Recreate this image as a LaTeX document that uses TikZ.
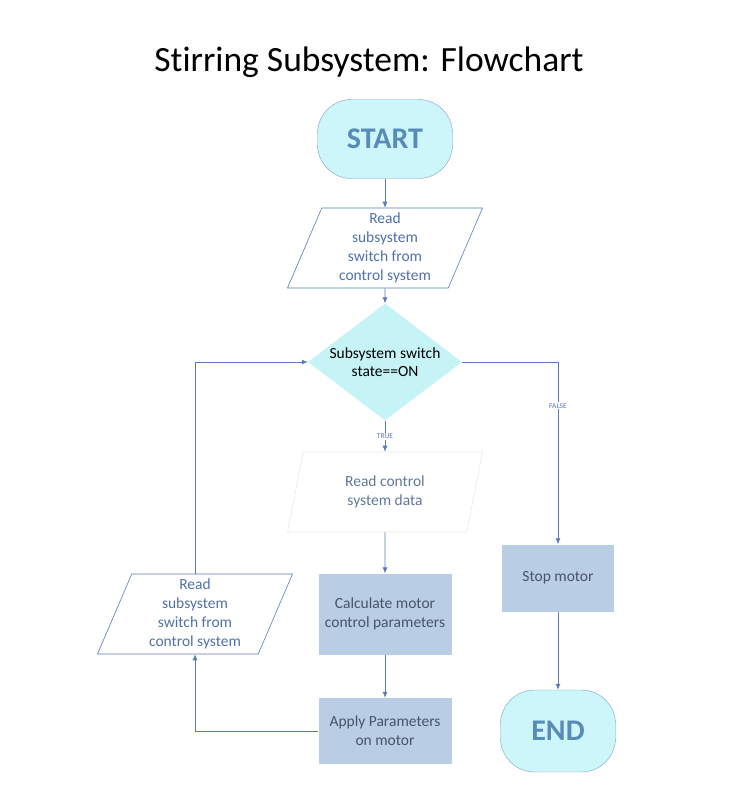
\documentclass[tikz,border=0pt]{standalone}
\usepackage{fontspec}
\setmainfont{Carlito}[Ligatures={NoCommon,NoDiscretionary,NoRare,NoContextual},Contextuals=NoAlternate]
\usetikzlibrary{arrows.meta,shapes.geometric}
\definecolor{cyanfill}{RGB}{204,246,249}
\definecolor{decfill}{RGB}{197,243,246}
\definecolor{boxfill}{RGB}{185,205,229}
\definecolor{linecol}{RGB}{88,122,184}
\definecolor{termline}{RGB}{127,159,200}
\definecolor{termtext}{RGB}{88,139,184}
\definecolor{iotext}{RGB}{80,112,170}
\definecolor{boxtext}{RGB}{72,84,104}
\definecolor{faintline}{RGB}{232,232,232}
\definecolor{fainttext}{RGB}{95,120,152}

\begin{document}
\begin{tikzpicture}[x=1pt,y=-1pt,
  flow arrow/.style={draw=linecol, line width=.7pt, -{Latex[length=6pt,width=5pt]}},
  terminal/.style={draw=termline, fill=cyanfill, rounded corners=34pt,
    text=termtext, font=\fontsize{30}{34}\selectfont\bfseries,
    minimum width=135pt, minimum height=79pt},
  io/.style={trapezium, trapezium left angle=64, trapezium right angle=116,
    trapezium stretches body, draw=linecol, line width=.6pt, align=center,
    text=iotext, font=\fontsize{15.5}{19}\selectfont,
    minimum width=195pt, minimum height=80pt, inner sep=0pt},
  decision/.style={diamond, fill=decfill, aspect=1.32, inner sep=-3pt,
    minimum width=154pt, minimum height=117pt,
    align=center, font=\fontsize{15.5}{18}\selectfont},
  process/.style={fill=boxfill, text=boxtext, align=center,
    font=\fontsize{15.5}{19}\selectfont, minimum width=133pt, minimum height=81pt},
  branch label/.style={fill=white, text=linecol, inner sep=1pt,
    font=\fontsize{7.5}{8}\selectfont},
]
\useasboundingbox (0,0) rectangle (751,800);
\node (title) at (369,62) {\fontsize{35.5}{40}\selectfont Stirring Subsystem: Flowchart};

% main column
\node[terminal] (start) at (385,139) {START};
\node[io] (readsw) at (385,248) {Read\\subsystem\\switch from\\control system};
\node[decision] (switchon) at (385,362) {Subsystem switch\\state==ON};
\node[io, draw=faintline, text=fainttext] (readdata) at (385,492) {Read control\\system data};
\node[process] (calc) at (385,614) {Calculate motor\\control parameters};
\node[process, minimum height=66pt] (apply) at (385,731) {Apply Parameters\\on motor};

% side columns
\node[io] (readswagain) at (195,614) {Read\\subsystem\\switch from\\control system};
\node[process, minimum width=112pt, minimum height=67pt] (stop) at (558,578) {Stop motor};
\node[terminal, minimum width=115pt, minimum height=82pt] (end) at (558,731) {END};

\foreach \from/\to in {start/readsw, readsw/switchon, readdata/calc, calc/apply, stop/end}
  \draw[flow arrow] (\from) -- (\to);
\draw[flow arrow] (switchon) -- node[branch label]{TRUE} (readdata);
\draw[flow arrow] (switchon.east) -| node[branch label, pos=.62]{FALSE} (stop.north);
% loop back
\draw[flow arrow] (apply.west) -| (readswagain.south);
\draw[flow arrow] (readswagain.north) |- (switchon.west);
\end{tikzpicture}
\end{document}
